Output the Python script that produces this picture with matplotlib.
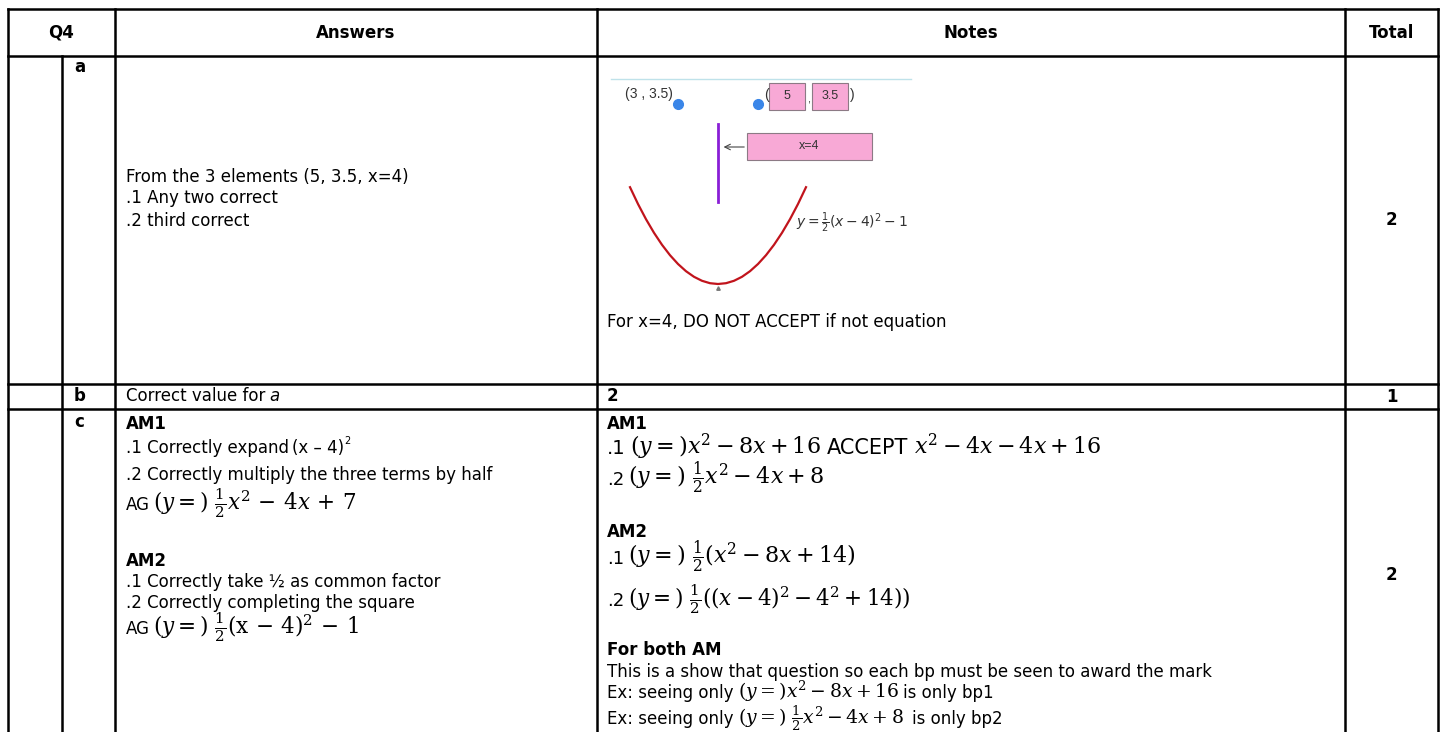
# Q4 mark scheme table with the small parabola sketch in the notes cell
import matplotlib.pyplot as plt
from matplotlib.patches import Rectangle

plt.rcParams['font.family'] = ['DejaVu Sans']
plt.rcParams['mathtext.fontset'] = 'dejavuserif'

# ---- data ----
# parabola y = 1/2 (x-4)^2 - 1, sampled points
curve_x = [1.8, 2.0, 2.2, 2.4, 2.6, 2.8, 3.0, 3.2, 3.4, 3.6, 3.8, 4.0,
           4.2, 4.4, 4.6, 4.8, 5.0, 5.2, 5.4, 5.6, 5.8, 6.0, 6.2]
curve_y = [1.42, 1.0, 0.62, 0.28, -0.02, -0.28, -0.5, -0.68, -0.82, -0.92, -0.98, -1.0,
           -0.98, -0.92, -0.82, -0.68, -0.5, -0.28, -0.02, 0.28, 0.62, 1.0, 1.42]
given_point = (3, 3.5)
answer_point = (5, 3.5)
axis_x = 4
axis_y_range = (1.05, 3.0)

header_labels = ['Q4', 'Answers', 'Notes', 'Total']
part_labels = ['a', 'b', 'c']
part_totals = ['2', '1', '2']

answers_a = ['From the 3 elements (5, 3.5, x=4)', '.1 Any two correct', '.2 third correct']
notes_a = 'For x=4, DO NOT ACCEPT if not equation'
notes_b = '2'

# table grid (pixels)
X_LEFT, X_SUB, X_ANS, X_NOTES, X_TOTAL, X_RIGHT = 8, 62, 115, 597, 1345, 1438
Y_TOP, Y_HEAD, Y_B, Y_C, Y_BOT = 9, 56, 384, 409, 732

fig = plt.figure(figsize=(14.46, 7.32), dpi=100)
ax = fig.add_axes([0, 0, 1, 1])
ax.set_xlim(0, 1446)
ax.set_ylim(732, 0)
ax.axis('off')
renderer = fig.canvas.get_renderer()


def line(x, y, parts):
    # parts: (text, fontsize, gap after, extra kwargs)
    for s, size, gap, kw in parts:
        dy = kw.pop('dy', 0) if kw else 0
        t = ax.text(x, y + dy, s, ha='left', va='baseline', fontsize=size, **kw)
        x += t.get_window_extent(renderer).width + gap


lw = 1.8
k = dict(color='black', lw=lw, solid_capstyle='projecting')
for yh in [Y_TOP, Y_HEAD, Y_B, Y_C]:
    ax.plot([X_LEFT, X_RIGHT], [yh, yh], **k)
for xv in [X_LEFT, X_ANS, X_NOTES, X_TOTAL, X_RIGHT]:
    ax.plot([xv, xv], [Y_TOP, Y_BOT + 5], **k)
ax.plot([X_SUB, X_SUB], [Y_HEAD, Y_BOT + 5], **k)

fs = 12
# header
for lab, x0, x1 in zip(header_labels, [X_LEFT, X_ANS, X_NOTES, X_TOTAL],
                       [X_ANS, X_NOTES, X_TOTAL, X_RIGHT]):
    ax.text((x0 + x1) / 2, 33, lab, ha='center', va='center', fontsize=fs, fontweight='bold')

# part labels and totals
for lab, tot, yl, yt in zip(part_labels, part_totals, [67, 396, 422], [220, 397, 575]):
    ax.text(74, yl, lab, ha='left', va='center', fontsize=fs, fontweight='bold')
    ax.text((X_TOTAL + X_RIGHT) / 2, yt, tot, ha='center', va='center', fontsize=fs, fontweight='bold')

TX = 126
NX = 607
# row a
for s, yy in zip(answers_a, [177, 198, 221]):
    ax.text(TX, yy, s, ha='left', va='center', fontsize=fs)
ax.text(NX, 322, notes_a, ha='left', va='center', fontsize=fs)

# row b
line(TX, 401, [('Correct value for', fs, 4, {}), ('a', fs, 0, dict(style='italic'))])
ax.text(NX, 396, notes_b, ha='left', va='center', fontsize=fs, fontweight='bold')

# row c answers
ax.text(TX, 424, 'AM1', ha='left', va='center', fontsize=fs, fontweight='bold')
line(TX, 453, [('.1 Correctly expand', fs, 3, {}), ('(x – 4)', fs, 0, {}),
               ('2', 7, 0, dict(dy=-9))])
ax.text(TX, 475, '.2 Correctly multiply the three terms by half', ha='left', va='center', fontsize=fs)
line(TX, 510, [('AG', fs, 3, {}), (r'$(y =)\ \frac{1}{2}x^2\,-\,4x\,+\,7$', 15.5, 0, {})])
ax.text(TX, 561, 'AM2', ha='left', va='center', fontsize=fs, fontweight='bold')
ax.text(TX, 582, '.1 Correctly take ½ as common factor', ha='left', va='center', fontsize=fs)
ax.text(TX, 603, '.2 Correctly completing the square', ha='left', va='center', fontsize=fs)
line(TX, 634, [('AG', fs, 3, {}), (r'$(y =)\ \frac{1}{2}(\mathrm{x}\,-\,4)^2\,-\,1$', 15.5, 0, {})])

# row c notes
ax.text(NX, 424, 'AM1', ha='left', va='center', fontsize=fs, fontweight='bold')
line(NX, 454, [('.1', 14, 4, {}), (r'$(y =)x^2 - 8x + 16$', 16, 6, {}), ('ACCEPT', 15, 6, {}),
               (r'$x^2 - 4x - 4x + 16$', 16, 0, {})])
line(NX, 485, [('.2', 13, 4, {}), (r'$(y =)\ \frac{1}{2}x^2 - 4x + 8$', 16, 0, {})])
ax.text(NX, 532, 'AM2', ha='left', va='center', fontsize=fs, fontweight='bold')
line(NX, 564, [('.1', 13, 4, {}), (r'$(y =)\ \frac{1}{2}(x^2 - 8x + 14)$', 16, 0, {})])
line(NX, 606, [('.2', 13, 4, {}), (r'$(y =)\ \frac{1}{2}((x - 4)^2 - 4^2 + 14))$', 15.5, 0, {})])
ax.text(NX, 650, 'For both AM', ha='left', va='center', fontsize=fs, fontweight='bold')
ax.text(NX, 672, 'This is a show that question so each bp must be seen to award the mark',
        ha='left', va='center', fontsize=fs)
line(NX, 698, [('Ex: seeing only', fs, 4, {}), (r'$(y =)x^2 - 8x + 16$', 13.5, 4, {}),
               ('is only bp1', fs, 0, {})])
line(NX, 724, [('Ex: seeing only', fs, 4, {}), (r'$(y =)\ \frac{1}{2}x^2 - 4x + 8$', 13.5, 9, {}),
               ('is only bp2', fs, 0, {})])

# ---- embedded sketch ----
px0, px1, py0, py1 = 600, 930, 62, 300
ins = fig.add_axes([px0 / 1446, 1 - py1 / 732, (px1 - px0) / 1446, (py1 - py0) / 732])
ins.set_xlim(4 + (px0 - 718) / 40, 4 + (px1 - 718) / 40)
ins.set_ylim(3.5 - (py1 - 104) / 40, 3.5 - (py0 - 104) / 40)
ins.axis('off')

sk = dict(family=['Liberation Sans', 'DejaVu Sans'], color='#333333')
ins.plot([1.325, 8.825], [4.125, 4.125], color='#bfe2ea', lw=1)
ins.plot(curve_x, curve_y, color='#c1141c', lw=1.6)
ins.plot([axis_x, axis_x], axis_y_range, color='#8a1fd6', lw=2)
ins.plot([given_point[0], answer_point[0]], [given_point[1], answer_point[1]], 'o',
         color='#3a86e8', ms=7, ls='none')
ins.plot([4], [-1.1], marker='^', color='#777777', ms=2.5)

ins.text(2.88, 3.74, '(3 , 3.5)', ha='right', va='center', fontsize=10, **sk)
ins.text(5.2, 3.72, '(', ha='center', va='center', fontsize=10, **sk)
ins.text(6.26, 3.6, ',', ha='center', va='center', fontsize=8, **sk)
ins.text(7.36, 3.72, ')', ha='center', va='center', fontsize=10, **sk)
pink = '#f8a9d6'
for (x0, x1), lab in zip([(5.275, 6.175), (6.35, 7.25)], ['5', '3.5']):
    ins.add_patch(Rectangle((x0, 3.35), x1 - x0, 0.675, facecolor=pink, edgecolor='#8c7a85', lw=0.8))
    ins.text((x0 + x1) / 2, 3.69, lab, ha='center', va='center', fontsize=9, **sk)
ins.add_patch(Rectangle((4.725, 2.1), 3.125, 0.675, facecolor=pink, edgecolor='#8c7a85', lw=0.8))
ins.text(6.29, 2.46, 'x=4', ha='center', va='center', fontsize=9, **sk)
ins.annotate('', xy=(4.07, 2.425), xytext=(4.725, 2.425),
             arrowprops=dict(arrowstyle='->', color='#444444', lw=0.8))
ins.text(5.95, 0.52, r'$y = \frac{1}{2}(x - 4)^2 - 1$', ha='left', va='center', fontsize=10,
         color='#333333', math_fontfamily='dejavusans')

fig.savefig('out.png', dpi=100)
